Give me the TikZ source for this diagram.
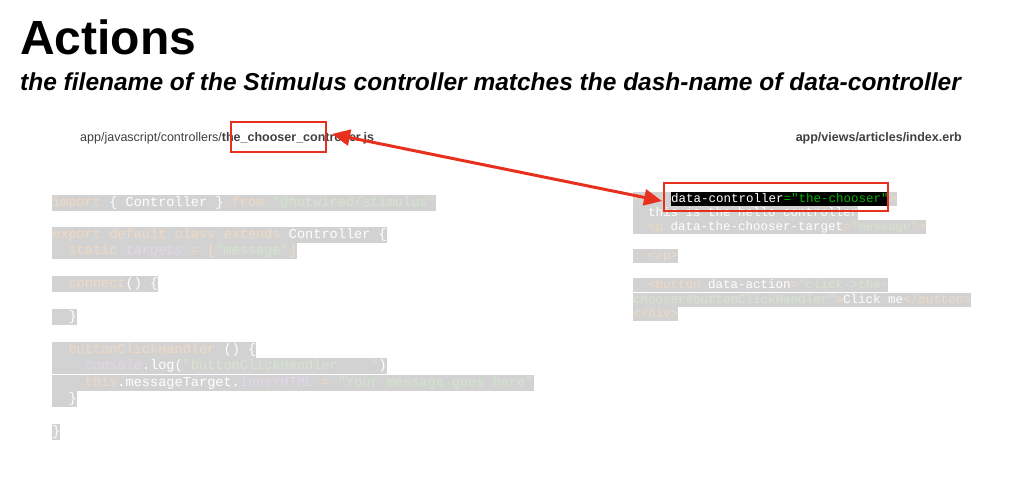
\documentclass[tikz,border=0pt]{standalone}
\usepackage{fontspec}
\setmainfont{Liberation Sans}
\setmonofont{Liberation Mono}
\usetikzlibrary{arrows.meta,positioning}
\definecolor{bar}{HTML}{D2D2D2}
\definecolor{kw}{HTML}{F1D9C4}
\definecolor{st}{HTML}{D3E6CC}
\definecolor{pu}{HTML}{E2D6EC}
\definecolor{arrowred}{HTML}{E8301E}
\newcommand{\kw}[1]{\textcolor{kw}{#1}}
\newcommand{\st}[1]{\textcolor{st}{#1}}
\newcommand{\pu}[1]{\textcolor{pu}{#1}}
\begin{document}
\begin{tikzpicture}
[x=1pt,y=-1pt,
code/.style={anchor=base west,fill=bar,inner xsep=0pt,inner ysep=0pt,text height=11.5pt,text depth=4.5pt,text=white,font=\fontsize{13.6}{16}\selectfont\ttfamily},
rcode/.style={code,text height=10.5pt,text depth=4pt,font=\fontsize{12.5}{14}\selectfont\ttfamily},
redbox/.style={draw=arrowred,line width=2pt,inner sep=0pt}]
\useasboundingbox (0,0) rectangle (1024,497);
\node (title) at (20,55) [anchor=base west,inner sep=0pt,font=\fontsize{48}{50}\selectfont\bfseries] {Actions};
\node (sub) at (20,91) [anchor=base west,inner sep=0pt,font=\fontsize{24.5}{27}\selectfont\bfseries\itshape] {the filename of the Stimulus controller matches the dash-name of data-controller};

% file paths
\node (jspath) at (80,142) [anchor=base west,inner sep=0pt,text=black!75,font=\fontsize{12.5}{14}\selectfont] {app/javascript/controllers/\textbf{the\_chooser\_controller.js}};
\node (erbpath) at (962,142) [anchor=base east,inner sep=0pt,text=black!75,font=\fontsize{12.5}{14}\selectfont\bfseries] {app/views/articles/index.erb};
\node (chooser) [redbox,minimum width=95pt,minimum height=30pt,anchor=west] at (230,137) {};

% javascript
\node (j1) at (52,206) [code] {\kw{import} \{ Controller \} \kw{from} \st{"@hotwired/stimulus"}};
\node (j2) at (52,238) [code] {\kw{export default class extends} Controller \{};
\node (j3) at (52,254) [code] {~~\kw{static} \pu{\textit{targets}} \kw{=} \kw{[}\st{"message"}\kw{]}};
\node (j4) at (52,287) [code] {~~\kw{connect}() \{};
\node (j5) at (52,320) [code] {~~\}};
\node (j6) at (52,353) [code] {~~\kw{buttonClickHandler} () \{};
\node (j7) at (52,369) [code] {~~~~\pu{\textit{console}}.log(\st{"buttonClickHandler...."})};
\node (j8) at (52,386) [code] {~~~~\kw{this}.messageTarget.\pu{innerHTML} \kw{=} \st{"Your message goes here"}};
\node (j9) at (52,402) [code] {~~\}};
\node (j10) at (52,435) [code] {\}};

% erb
\node (e1) at (633,202) [rcode] {\kw{<div }};
\node (dc) [rcode,fill=black,anchor=base west] at (e1.base east) {data-controller\textcolor{green!70!black}{="the-chooser"}};
\node (e1b) [rcode,anchor=base west] at (dc.base east) {\kw{>}};
\node (e2) at (633,216) [rcode] {~~this is the hello controller};
\node (e3) at (633,230) [rcode] {~~\kw{<p} data-the-chooser-target\kw{=}\st{"message"}\kw{>}};
\node (e4) at (633,259) [rcode] {~~\kw{</p>}};
\node (e5) at (633,288) [rcode] {~~\kw{<button} data-action\kw{=}\st{"click->the-}};
\node (e6) at (633,303) [rcode] {\st{chooser\#buttonClickHandler"}\kw{>}Click me\kw{</button>}};
\node (e7) at (633,317) [rcode] {\kw{</div>}};
\node (dcbox) [redbox,minimum width=224pt,minimum height=28pt,anchor=west] at (663,197) {};

\coordinate (a) at ([xshift=5pt,yshift=3pt]chooser.east);
\coordinate (b) at ([xshift=-1pt,yshift=-4pt]dcbox.west);
\draw[arrowred,line width=3pt,{Triangle[length=18pt,width=16pt]}-{Triangle[length=18pt,width=16pt]}] (a) -- (b);
\end{tikzpicture}
\end{document}
